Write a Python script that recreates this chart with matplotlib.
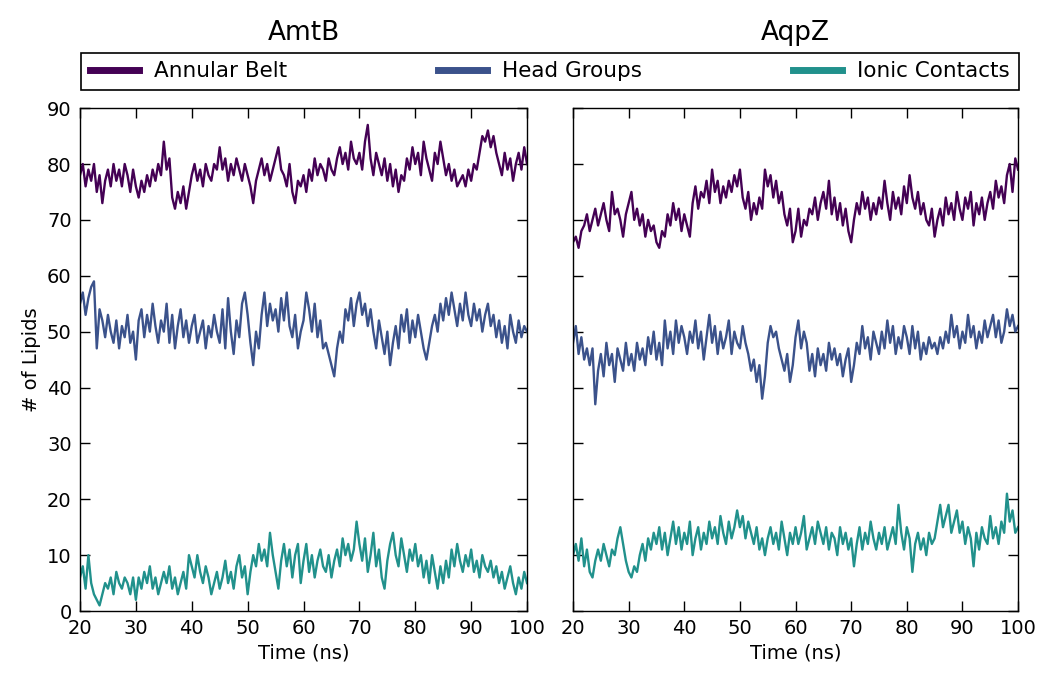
import numpy as np
import matplotlib
matplotlib.use("Agg")
import matplotlib.pyplot as plt

# lipid counts sampled every 0.5 ns from 20 to 100 ns
time_ns = np.arange(20, 100.01, 0.5)

amtb_belt = [
    78, 80, 76, 79, 77, 80, 75, 78, 73, 77,
    79, 76, 80, 77, 79, 76, 80, 78, 75, 79,
    76, 74, 77, 75, 78, 76, 79, 77, 80, 78,
    84, 79, 81, 74, 72, 75, 73, 76, 72, 75,
    78, 80, 77, 79, 76, 80, 78, 77, 80, 79,
    83, 79, 81, 77, 80, 78, 81, 79, 77, 80,
    78, 76, 73, 77, 79, 81, 78, 80, 77, 79,
    81, 83, 79, 78, 76, 80, 75, 73, 77, 76,
    78, 75, 79, 77, 81, 78, 80, 79, 77, 81,
    79, 78, 81, 83, 80, 82, 79, 84, 81, 80,
    82, 79, 84, 87, 81, 78, 82, 80, 78, 81,
    77, 80, 76, 79, 75, 78, 77, 81, 79, 83,
    80, 82, 78, 84, 81, 79, 77, 82, 80, 84,
    81, 78, 80, 77, 79, 76, 77, 78, 76, 79,
    77, 80, 79, 82, 85, 84, 86, 83, 85, 82,
    80, 78, 82, 79, 81, 77, 80, 82, 79, 83,
    80,
]
amtb_heads = [
    55, 57, 53, 56, 58, 59, 47, 54, 52, 49,
    53, 50, 48, 52, 47, 51, 49, 53, 48, 50,
    45, 52, 54, 49, 53, 50, 55, 51, 48, 52,
    50, 55, 48, 53, 47, 51, 54, 49, 52, 48,
    51, 53, 48, 50, 52, 47, 51, 49, 53, 50,
    48, 54, 47, 56, 50, 46, 52, 49, 55, 57,
    53, 48, 44, 50, 47, 53, 57, 51, 55, 52,
    54, 50, 56, 52, 57, 51, 49, 53, 47, 50,
    52, 57, 54, 50, 55, 49, 52, 47, 48, 46,
    44, 42, 47, 50, 48, 54, 52, 56, 51, 55,
    57, 53, 55, 51, 54, 50, 47, 52, 49, 46,
    50, 44, 48, 51, 47, 53, 50, 54, 48, 52,
    49, 53, 50, 47, 45, 48, 51, 53, 50, 55,
    52, 56, 53, 57, 54, 51, 55, 52, 57, 53,
    51, 55, 52, 54, 50, 53, 55, 51, 53, 49,
    52, 48, 51, 47, 53, 50, 48, 52, 49, 51,
    50,
]
amtb_ionic = [
    6, 8, 4, 10, 5, 3, 2, 1, 3, 5,
    4, 6, 3, 7, 5, 4, 6, 5, 3, 6,
    2, 6, 4, 7, 5, 8, 4, 6, 3, 5,
    7, 5, 8, 4, 6, 3, 5, 7, 4, 10,
    8, 6, 10, 7, 5, 8, 6, 3, 5, 7,
    4, 6, 9, 5, 7, 4, 8, 10, 6, 8,
    3, 7, 10, 8, 12, 9, 11, 8, 14, 10,
    7, 4, 9, 12, 8, 11, 6, 10, 12, 5,
    9, 12, 7, 10, 6, 9, 11, 8, 7, 10,
    6, 9, 11, 8, 13, 10, 12, 9, 11, 16,
    12, 9, 13, 7, 10, 14, 8, 11, 6, 4,
    9, 12, 14, 10, 8, 13, 10, 7, 11, 9,
    12, 8, 10, 6, 9, 5, 10, 7, 4, 8,
    5, 9, 6, 11, 8, 12, 9, 7, 10, 8,
    11, 7, 9, 6, 10, 8, 7, 9, 6, 8,
    5, 7, 4, 6, 8, 5, 3, 6, 4, 7,
    5,
]

aqpz_belt = [
    66, 67, 65, 68, 69, 71, 68, 70, 72, 69,
    71, 73, 70, 68, 75, 71, 72, 70, 67, 71,
    73, 75, 70, 72, 69, 71, 67, 70, 68, 69,
    66, 65, 68, 67, 71, 69, 73, 70, 72, 68,
    71, 69, 67, 73, 76, 72, 75, 74, 77, 73,
    79, 75, 77, 73, 76, 74, 77, 75, 78, 76,
    79, 74, 72, 75, 70, 73, 71, 74, 72, 79,
    76, 78, 74, 77, 73, 75, 71, 69, 72, 66,
    68, 72, 67, 70, 69, 72, 71, 74, 70, 73,
    75, 72, 77, 71, 74, 70, 73, 69, 72, 68,
    66, 70, 73, 71, 75, 72, 74, 70, 73, 71,
    74, 72, 77, 73, 70, 75, 72, 74, 71, 76,
    73, 78, 74, 72, 75, 71, 73, 70, 69, 72,
    67, 70, 72, 69, 74, 71, 73, 70, 75, 72,
    70, 74, 72, 75, 69, 73, 71, 74, 70, 73,
    75, 72, 77, 74, 76, 73, 78, 80, 75, 81,
    79,
]
aqpz_heads = [
    48, 51, 46, 49, 45, 47, 44, 47, 37, 43,
    46, 42, 48, 44, 46, 41, 47, 45, 43, 48,
    44, 46, 43, 48, 45, 47, 44, 49, 46, 50,
    45, 48, 44, 52, 47, 50, 46, 52, 48, 51,
    49, 46, 50, 48, 52, 47, 50, 45, 49, 53,
    48, 51, 46, 50, 47, 49, 52, 46, 50, 48,
    47, 51, 48, 46, 43, 45, 41, 44, 38, 42,
    48, 51, 49, 50, 47, 45, 43, 46, 41, 44,
    49, 52, 47, 50, 48, 43, 46, 42, 47, 44,
    46, 43, 48, 45, 47, 44, 46, 42, 45, 47,
    41, 44, 48, 46, 51, 47, 49, 45, 50, 48,
    46, 50, 47, 52, 48, 51, 46, 49, 47, 51,
    49, 46, 51, 47, 50, 45, 48, 46, 49, 47,
    48, 46, 49, 47, 50, 48, 53, 49, 51, 47,
    50, 48, 53, 49, 51, 47, 50, 48, 52, 49,
    51, 53, 49, 52, 48, 50, 54, 51, 53, 50,
    51,
]
aqpz_ionic = [
    10, 12, 9, 13, 8, 11, 7, 6, 9, 11,
    9, 12, 10, 8, 11, 10, 13, 15, 12, 9,
    7, 6, 8, 7, 10, 12, 9, 13, 11, 14,
    12, 15, 11, 14, 10, 13, 16, 12, 15, 11,
    14, 12, 16, 10, 13, 15, 11, 14, 12, 16,
    13, 15, 12, 17, 14, 12, 16, 13, 15, 18,
    15, 17, 13, 16, 14, 12, 15, 11, 13, 10,
    13, 15, 12, 14, 11, 16, 13, 10, 14, 12,
    15, 12, 14, 17, 11, 13, 15, 12, 16, 14,
    12, 15, 11, 14, 13, 10, 15, 12, 14, 11,
    13, 8, 12, 15, 11, 14, 12, 16, 13, 11,
    14, 12, 15, 11, 13, 15, 12, 19, 14, 11,
    15, 13, 7, 12, 14, 11, 13, 10, 14, 12,
    13, 16, 19, 15, 17, 19, 14, 16, 18, 14,
    16, 12, 15, 13, 8, 14, 11, 15, 13, 12,
    17, 13, 15, 12, 16, 14, 21, 16, 18, 14,
    15,
]

proteins = ["AmtB", "AqpZ"]
series_names = ["Annular Belt", "Head Groups", "Ionic Contacts"]
colors = ["#440154", "#3b528b", "#21918c"]
data = {
    "AmtB": [amtb_belt, amtb_heads, amtb_ionic],
    "AqpZ": [aqpz_belt, aqpz_heads, aqpz_ionic],
}

plt.rcParams["font.family"] = ["DejaVu Sans"]
narrow = ["DejaVu Sans Condensed", "DejaVu Sans"]

fig = plt.figure(figsize=(10.43, 6.75), dpi=100)
ax1 = fig.add_axes([0.0767, 0.0948, 0.4286, 0.745])
ax2 = fig.add_axes([0.5494, 0.0948, 0.4267, 0.745], sharey=ax1)

for ax, name in zip([ax1, ax2], proteins):
    for vals, label, c in zip(data[name], series_names, colors):
        ax.plot(time_ns, vals, color=c, lw=1.7, label=label)
    ax.set_xlim(20, 100)
    ax.set_xticks(np.arange(20, 101, 10))
    ax.set_ylim(0, 90)
    ax.set_yticks(np.arange(0, 91, 10))
    ax.tick_params(direction="in", top=True, right=True, length=7,
                   width=1, labelsize=14, pad=6)
    ax.set_xlabel("Time (ns)", fontsize=14)
    ax.set_title(name, fontsize=19, pad=49, family=narrow)
    for sp in ax.spines.values():
        sp.set_linewidth(1)

ax2.tick_params(labelleft=False)
ax1.set_ylabel("# of Lipids", fontsize=14)

handles, labels = ax1.get_legend_handles_labels()
leg = fig.legend(handles, labels, ncol=3, mode="expand",
                 bbox_to_anchor=(0.0777, 1 - 90 / 675, 0.899, 38 / 675),
                 loc="lower left", borderaxespad=0, fancybox=False,
                 edgecolor="black", handlelength=2.3, handletextpad=0.7,
                 prop={"family": narrow, "size": 15.5}, framealpha=1)
leg.get_frame().set_linewidth(1.2)
for h in leg.get_lines():
    h.set_linewidth(5)

fig.savefig("out.png", dpi=100)
